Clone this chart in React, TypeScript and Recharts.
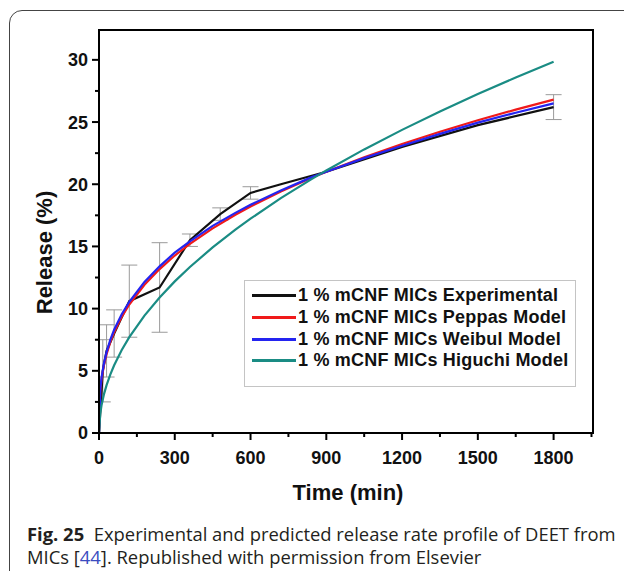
import React from 'react';
import { LineChart, Line, XAxis, YAxis, ErrorBar, Legend, ReferenceArea } from 'recharts';

// ---- data ----
const modelTimes = [0, 5, 10, 20, 30, 45, 60, 90, 120, 180, 240, 300, 360, 450, 540, 600, 720, 840, 900, 1050, 1200, 1350, 1500, 1650, 1800];
const peppasRelease = [0, 3.38, 4.31, 5.5, 6.34, 7.32, 8.1, 9.34, 10.33, 11.92, 13.18, 14.27, 15.21, 16.45, 17.55, 18.21, 19.42, 20.5, 21.0, 22.17, 23.24, 24.22, 25.14, 26.0, 26.8];
const weibullRelease = [0, 3.5, 4.45, 5.65, 6.5, 7.5, 8.3, 9.55, 10.55, 12.15, 13.4, 14.5, 15.4, 16.65, 17.7, 18.35, 19.5, 20.55, 21.0, 22.1, 23.1, 24.05, 24.95, 25.75, 26.5];
const higuchiRelease = [0, 1.57, 2.22, 3.15, 3.85, 4.72, 5.45, 6.67, 7.71, 9.44, 10.9, 12.19, 13.35, 14.92, 16.35, 17.23, 18.88, 20.39, 21.11, 22.8, 24.37, 25.85, 27.25, 28.58, 29.85];

const expTimes = [0, 15, 30, 60, 120, 240, 360, 480, 600, 720, 900, 1200, 1500, 1800];
const expRelease = [0, 5.0, 6.6, 8.0, 10.6, 11.7, 15.5, 17.6, 19.3, 20.0, 21.0, 23.0, 24.75, 26.2];

const errTimes = [15, 30, 60, 120, 240, 360, 480, 600, 1800];
const errMeans = [5.0, 6.6, 8.0, 10.6, 11.7, 15.5, 17.6, 19.3, 26.2];
const errSizes = [2.5, 2.1, 1.9, 2.9, 3.6, 0.5, 0.5, 0.5, 1.0];

const xTicks = [0, 150, 300, 450, 600, 750, 900, 1050, 1200, 1350, 1500, 1650, 1800, 1950];
const xMajor = [0, 300, 600, 900, 1200, 1500, 1800];
const yTicks = [0, 2.5, 5, 7.5, 10, 12.5, 15, 17.5, 20, 22.5, 25, 27.5, 30];
const yMajor = [0, 5, 10, 15, 20, 25, 30];

const seriesNames = [
  '1 % mCNF MICs Experimental',
  '1 % mCNF MICs Peppas Model',
  '1 % mCNF MICs Weibul Model',
  '1 % mCNF MICs Higuchi Model',
];
const seriesColors = ['#111111', '#f01a1a', '#2424f0', '#1a8c84'];

const modelData = modelTimes.map((t, i) => ({
  t,
  peppas: peppasRelease[i],
  weibull: weibullRelease[i],
  higuchi: higuchiRelease[i],
}));
const expData = expTimes.map((t, i) => ({ t, exp: expRelease[i] }));
const errData = errTimes.map((t, i) => ({ t, mean: errMeans[i], err: errSizes[i] }));

const tickFont = '"Liberation Sans", Arial, sans-serif';

const renderYTick = (p: any) => {
  const v = p.payload.value;
  const major = yMajor.includes(v);
  const len = major ? 7 : 4;
  return (
    <g>
      <line x1={p.x} y1={p.y} x2={p.x - len} y2={p.y} stroke="#000" strokeWidth={2} />
      {major && (
        <text x={p.x - 11} y={p.y} dy="0.36em" textAnchor="end" fontFamily={tickFont} fontWeight="bold" fontSize={18} fill="#111">
          {v}
        </text>
      )}
    </g>
  );
};

const renderXTick = (p: any) => {
  const v = p.payload.value;
  const major = xMajor.includes(v);
  const len = major ? 7 : 4;
  return (
    <g>
      <line x1={p.x} y1={p.y} x2={p.x} y2={p.y + len} stroke="#000" strokeWidth={2} />
      {major && (
        <text x={p.x} y={p.y + 25} dy="0.36em" textAnchor="middle" fontFamily={tickFont} fontWeight="bold" fontSize={18} fill="#111">
          {v}
        </text>
      )}
    </g>
  );
};

const renderLegend = () => (
  <div
    style={{
      border: '1px solid #c4c4c4',
      background: '#fff',
      padding: '4px 4px 14px 7px',
      boxSizing: 'border-box',
      width: 332,
    }}
  >
    {seriesNames.map((name, i) => (
      <div key={name} style={{ display: 'flex', alignItems: 'center', height: 21.7 }}>
        <div style={{ width: 44, height: 3, flexShrink: 0, background: seriesColors[i], marginRight: 2 }} />
        <span style={{ fontFamily: tickFont, fontWeight: 'bold', fontSize: 18, letterSpacing: 0.2, color: '#111', whiteSpace: 'nowrap' }}>{name}</span>
      </div>
    ))}
  </div>
);

export default function App() {
  return (
    <div style={{ position: 'absolute', left: 0, top: 0, width: 624, height: 571, overflow: 'hidden', background: '#fff' }}>
      <div
        style={{
          position: 'absolute',
          left: 9,
          top: 10,
          width: 700,
          height: 700,
          border: '1.5px solid #444',
          borderRadius: 13,
          boxSizing: 'border-box',
        }}
      />
      <div style={{ position: 'absolute', left: 0, top: 0 }}>
        <LineChart width={624} height={520} margin={{ top: 30, right: 31, bottom: 7, left: 19 }}>
          <XAxis
            type="number"
            dataKey="t"
            domain={[0, 1956]}
            ticks={xTicks}
            interval={0}
            allowDataOverflow
            height={80}
            tickSize={0}
            tickMargin={0}
            tickLine={false}
            axisLine={{ stroke: '#000', strokeWidth: 2 }}
            tick={renderXTick}
            label={{
              content: (lp: any) => {
                const vb = lp.viewBox;
                return (
                  <text x={vb.x + vb.width / 2 + 2} y={vb.y + 59} dy="0.36em" textAnchor="middle" fontFamily={tickFont} fontWeight="bold" fontSize={22} fill="#111">
                    Time (min)
                  </text>
                );
              },
            }}
          />
          <YAxis
            type="number"
            domain={[0, 32.4]}
            ticks={yTicks}
            interval={0}
            allowDataOverflow
            width={80}
            tickSize={0}
            tickMargin={0}
            tickLine={false}
            axisLine={{ stroke: '#000', strokeWidth: 2 }}
            tick={renderYTick}
            label={{
              content: (lp: any) => {
                const vb = lp.viewBox;
                const cx = vb.x + 25;
                const cy = vb.y + vb.height / 2 + 21;
                return (
                  <text x={cx} y={cy} dy="0.36em" textAnchor="middle" transform={`rotate(-90 ${cx} ${cy})`} fontFamily={tickFont} fontWeight="bold" fontSize={22} fill="#111">
                    Release (%)
                  </text>
                );
              },
            }}
          />
          <ReferenceArea x1={0} x2={1956} y1={0} y2={32.4} fill="none" fillOpacity={0} stroke="#000" strokeWidth={2} />
          <Line data={errData} dataKey="mean" stroke="none" strokeWidth={0} dot={false} activeDot={false} legendType="none" isAnimationActive={false}>
            <ErrorBar dataKey="err" direction="y" width={8} stroke="#9a9a9a" strokeWidth={1} isAnimationActive={false} />
          </Line>
          <Line data={expData} dataKey="exp" name={seriesNames[0]} stroke={seriesColors[0]} strokeWidth={2.2} dot={false} activeDot={false} isAnimationActive={false} />
          <Line data={modelData} dataKey="peppas" name={seriesNames[1]} stroke={seriesColors[1]} strokeWidth={2.2} dot={false} activeDot={false} isAnimationActive={false} />
          <Line data={modelData} dataKey="weibull" name={seriesNames[2]} stroke={seriesColors[2]} strokeWidth={2.2} dot={false} activeDot={false} isAnimationActive={false} />
          <Line data={modelData} dataKey="higuchi" name={seriesNames[3]} stroke={seriesColors[3]} strokeWidth={2.2} dot={false} activeDot={false} isAnimationActive={false} />
          <Legend layout="vertical" align="center" verticalAlign="middle" content={renderLegend} wrapperStyle={{ left: 244, top: 280, width: 332 }} />
        </LineChart>
      </div>
      <div
        style={{
          position: 'absolute',
          left: 27,
          top: 522,
          fontFamily: '"Open Sans", "Noto Sans", sans-serif',
          fontSize: 18.4,
          lineHeight: '23px',
          color: '#231f20',
          whiteSpace: 'nowrap',
        }}
      >
        <div>
          <b>Fig. 25</b>&nbsp; Experimental and predicted release rate profile of DEET from
        </div>
        <div>
          MICs [<span style={{ color: '#3b4cc0' }}>44</span>]. Republished with permission from Elsevier
        </div>
      </div>
    </div>
  );
}
